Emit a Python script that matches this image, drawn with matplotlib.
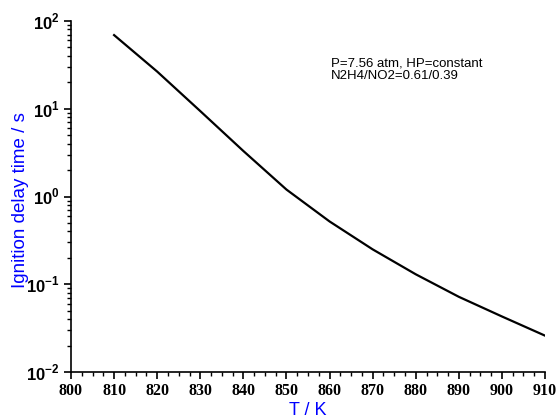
import matplotlib
matplotlib.use("Agg")
import matplotlib.pyplot as plt
import numpy as np
from matplotlib.ticker import FixedLocator, LogLocator, NullFormatter, FuncFormatter

# ignition delay vs temperature
temperature = [810, 820, 830, 840, 850, 860, 870, 880, 890, 900, 910]
delay = [69, 26.5, 9.4, 3.3, 1.2, 0.52, 0.25, 0.13, 0.072, 0.043, 0.026]

note = "P=7.56 atm, HP=constant\nN2H4/NO2=0.61/0.39"

plt.rcParams["mathtext.fontset"] = "custom"
plt.rcParams["mathtext.rm"] = "Liberation Sans:bold"
plt.rcParams["mathtext.bf"] = "Liberation Sans:bold"

fig = plt.figure(figsize=(5.59, 4.19), dpi=100)
ax = fig.add_axes([0.127, 0.112, 0.848, 0.838])

ax.plot(temperature, delay, color="black", lw=1.6)

ax.set_yscale("log")
ax.set_xlim(800, 910)
ax.set_ylim(1e-2, 1e2)

ax.xaxis.set_major_locator(FixedLocator(np.arange(800, 911, 10)))
ax.xaxis.set_minor_locator(FixedLocator(np.arange(800, 911, 2.5)))
ax.yaxis.set_major_locator(LogLocator(base=10, numticks=10))
ax.yaxis.set_minor_locator(LogLocator(base=10, subs=np.arange(2, 10), numticks=20))
ax.yaxis.set_minor_formatter(NullFormatter())
ax.yaxis.set_major_formatter(FuncFormatter(lambda v, p: r"$10^{%d}$" % round(np.log10(v))))

for s in ("top", "right"):
    ax.spines[s].set_visible(False)
for s in ("left", "bottom"):
    ax.spines[s].set_linewidth(1.2)

ax.tick_params(which="major", direction="out", length=5, width=1.2, pad=3)
ax.tick_params(which="minor", direction="out", length=3, width=1.0)
ax.tick_params(axis="y", labelsize=12)
ax.tick_params(axis="x", labelsize=11.5)
for lab in ax.get_xticklabels():
    lab.set_fontfamily("Liberation Serif")
    lab.set_fontweight("bold")

ax.set_xlabel("T / K", color="#0000ff", fontsize=13, family="Liberation Sans", labelpad=2)
ax.set_ylabel("Ignition delay time / s", color="#0000ff", fontsize=13.5, family="Liberation Sans")
ax.yaxis.set_label_coords(-0.089, 0.49)

ax.text(0.549, 0.897, note, transform=ax.transAxes, fontsize=9.5, family="Liberation Sans",
        va="top", ha="left", linespacing=1.05)

fig.savefig("out.png", dpi=100)
